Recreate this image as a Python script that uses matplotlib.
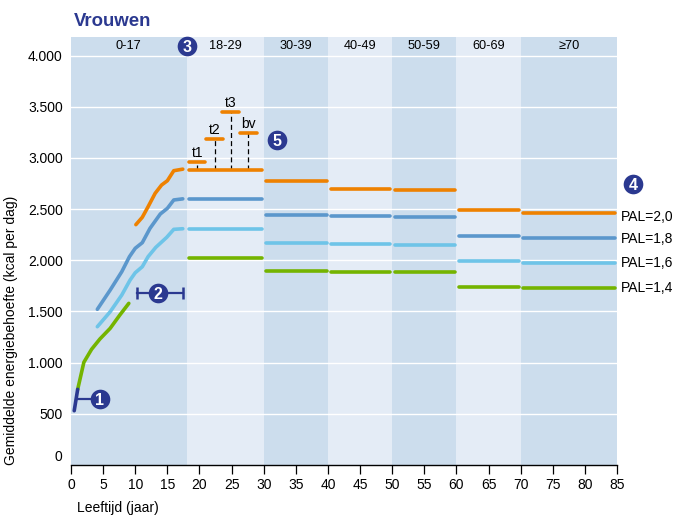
import matplotlib
matplotlib.use("Agg")
import matplotlib.pyplot as plt

plt.rcParams['font.family'] = ['Liberation Sans', 'DejaVu Sans']

W, H = 681, 529
NAVY = '#2B3990'
DARK = '#CCDDED'
LIGHT = '#E4ECF6'
ORANGE = '#EE8100'
BLUE = '#5B97CC'
SKY = '#6EC4E8'
GREEN = '#74B400'

band_edges = [0, 18, 30, 40, 50, 60, 70, 85]
band_labels = ['0-17', '18-29', '30-39', '40-49', '50-59', '60-69', '≥70']
seg_start = [18.4, 30.4, 40.5, 50.4, 60.4, 70.4]
seg_end = [29.7, 39.9, 49.7, 59.8, 69.7, 84.7]

pal20 = [2880, 2770, 2700, 2690, 2490, 2460]
pal18 = [2600, 2440, 2430, 2420, 2240, 2220]
pal16 = [2310, 2170, 2160, 2150, 1990, 1970]
pal14 = [2020, 1900, 1890, 1890, 1740, 1730]

pal_labels = ['PAL=2,0', 'PAL=1,8', 'PAL=1,6', 'PAL=1,4']

child_age20 = [10.1, 11.1, 12, 13.1, 14.1, 15, 16, 17.4]
child_val20 = [2348, 2420, 2523, 2654, 2735, 2777, 2875, 2890]
child_age18 = [4.1, 6.1, 7.9, 9.1, 10, 11.1, 12.3, 13.9, 15, 16, 17.4]
child_val18 = [1521, 1709, 1888, 2035, 2117, 2172, 2312, 2452, 2507, 2589, 2600]
child_age16 = [4.1, 6.1, 7.9, 9.2, 10, 11.1, 12, 13.2, 14.9, 16, 17.4]
child_val16 = [1351, 1497, 1660, 1807, 1878, 1937, 2035, 2126, 2224, 2302, 2308]
child_age14 = [1.04, 2.0, 3.2, 4.5, 6.1, 7.6, 9.0]
child_val14 = [739, 1003, 1130, 1231, 1335, 1465, 1579]
infant_age = [0.5, 1.04]
infant_val = [530, 739]

trimester_labels = ['t1', 't2', 't3', 'bv']
trimester_start = [18.4, 21.0, 23.5, 26.3]
trimester_end = [20.9, 23.7, 26.2, 28.9]
trimester_val = [2960, 3188, 3451, 3246]
trimester_base = 2880

xticks = list(range(0, 90, 5))
yticks = [500, 1000, 1500, 2000, 2500, 3000, 3500, 4000]
ytick_labels = ['500', '1.000', '1.500', '2.000', '2.500', '3.000', '3.500', '4.000']

fig = plt.figure(figsize=(W / 100, H / 100), dpi=100)
ax = fig.add_axes([71 / W, 1 - 465 / H, 546 / W, 428 / H])
ax.set_xlim(0, 85)
ax.set_ylim(0, 4181)

for i in range(len(band_labels)):
    ax.axvspan(band_edges[i], band_edges[i + 1], color=DARK if i % 2 == 0 else LIGHT, lw=0, zorder=0)
    ax.text((band_edges[i] + band_edges[i + 1]) / 2, 4090, band_labels[i], ha='center', va='center',
            fontsize=9.2, color='black', zorder=5)

for v in yticks:
    ax.axhline(v, color='white', lw=1.0, zorder=1)

def line(x, y, c, lw=2.6, z=3):
    ax.plot(x, y, color=c, lw=lw, solid_capstyle='round', solid_joinstyle='round', zorder=z)

for vals, c in zip([pal20, pal18, pal16, pal14], [ORANGE, BLUE, SKY, GREEN]):
    for a, b, v in zip(seg_start, seg_end, vals):
        line([a, b], [v, v], c)

line(child_age20, child_val20, ORANGE)
line(child_age18, child_val18, BLUE)
line(child_age16, child_val16, SKY)
line(child_age14, child_val14, GREEN)
line(infant_age, infant_val, NAVY)

for lab, a, b, v in zip(trimester_labels, trimester_start, trimester_end, trimester_val):
    line([a, b], [v, v], ORANGE)
    mid = (a + b) / 2
    ax.plot([mid, mid], [trimester_base, v], color='black', lw=0.9, ls=(0, (4, 2.5)), zorder=2)
    ax.text(mid, v + 20, lab, ha='center', va='bottom', fontsize=10, zorder=5)

for lab, v, dy in zip(pal_labels, [pal20[-1], pal18[-1], pal16[-1], pal14[-1]], [-3, -1, 0, 0]):
    ax.annotate(lab, (85, v), xytext=(3, dy), textcoords='offset points', ha='left', va='center',
                fontsize=10, annotation_clip=False)

# Bracket annotations
ax.plot([1.0, 3.6], [640, 640], color=NAVY, lw=1.6, zorder=4)
ax.plot([10.2, 17.5], [1677, 1677], color=NAVY, lw=1.6, zorder=4,
        marker='|', ms=9, mew=1.8)

badges = [('1', 4.45, 640), ('2', 13.6, 1677), ('3', 18.05, 4090), ('4', 87.5, 2745), ('5', 32.1, 3175)]
for t, x, y in badges:
    ax.scatter([x], [y], s=200, color=NAVY, zorder=6, clip_on=False, linewidths=0)
    ax.text(x, y, t, color='white', ha='center', va='center_baseline', fontsize=11.5, fontweight='bold', zorder=7)

for s in ['top', 'left', 'right']:
    ax.spines[s].set_visible(False)
ax.spines['bottom'].set_linewidth(1.0)
ax.set_xticks(xticks)
ax.tick_params(axis='x', length=6.5, width=0.9, labelsize=10, pad=3)
ax.set_yticks(yticks)
ax.set_yticklabels(ytick_labels)
ax.tick_params(axis='y', length=0, labelsize=10, pad=6)
ax.annotate('0', (0, 0), xytext=(-6, 6), textcoords='offset points', ha='right', va='center',
            fontsize=10, annotation_clip=False)

fig.text(74 / W, 1 - 21 / H, 'Vrouwen', fontsize=13.4, fontweight='bold', color=NAVY, ha='left', va='center')
fig.text(77 / W, 1 - 508 / H, 'Leeftijd (jaar)', fontsize=10, ha='left', va='center')
fig.text(11 / W, 1 - 465 / H, 'Gemiddelde energiebehoefte (kcal per dag)', fontsize=10, rotation=90,
         ha='center', va='bottom')

fig.savefig('out.png', dpi=100)
